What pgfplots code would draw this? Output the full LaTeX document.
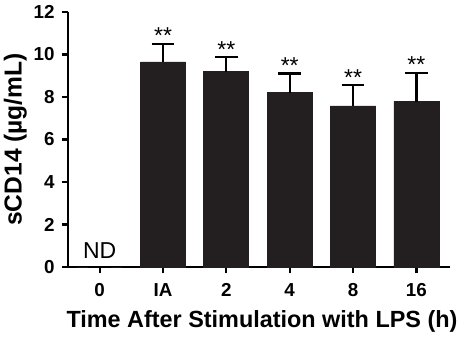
\documentclass[border=0pt]{standalone}
\usepackage{pgfplots}
\pgfplotsset{compat=1.18}
\usepackage{fontspec}
\setmainfont{Liberation Sans}
\definecolor{barc}{HTML}{231F20}
\begin{document}
\begin{tikzpicture}
\useasboundingbox (-34pt,-35pt) rectangle (196.5pt,133.5pt);
\begin{axis}[
  scale only axis,
  width=191pt, height=127.5pt,
  at={(0,0)}, anchor=south west,
  xmin=-0.5, xmax=5.53,
  ymin=0, ymax=12,
  axis x line*=bottom, axis y line*=left,
  axis line style={line width=1.1pt, -},
  every tick/.style={line width=1.1pt, black},
  tick align=outside,
  major tick length=3.2pt,
  xtick={0,1,2,3,4,5},
  xticklabels={0,IA,2,4,8,16},
  ytick={0,2,4,6,8,10,12},
  tick label style={font=\bfseries\fontsize{9.4}{10}\selectfont},
  xticklabel style={yshift=-1.5pt},
  /pgf/number format/assume math mode=true,
  xlabel={\bfseries Time After Stimulation with LPS (h)},
  ylabel={\bfseries sCD14 (\textmu g/mL)},
  xlabel style={font=\bfseries\fontsize{11.7}{13}\selectfont, xshift=1.5pt, yshift=0pt},
  ylabel style={font=\bfseries\fontsize{12.3}{14}\selectfont, yshift=-3.5pt},
  clip=false,
]
\addplot[ybar, bar width=22.5pt, fill=barc, draw=barc,
  error bars/.cd, y dir=plus, y explicit,
  error bar style={line width=1.1pt, black},
  error mark options={rotate=90, mark size=5.7pt, line width=1.1pt, black}]
  table[x=x, y=y, y error=e] {
x y e
0 0 0
1 9.65 0.85
2 9.19 0.68
3 8.20 0.91
4 7.58 0.97
5 7.78 1.36
};
\addplot[only marks, mark=none, nodes near coords={**},
  every node near coord/.style={font=\fontsize{11.5}{12}\selectfont, anchor=south, yshift=-3.5pt}]
  coordinates {(1,10.5) (2,9.87) (3,9.11) (4,8.55) (5,9.14)};
\node[font=\fontsize{11.5}{13}\selectfont, anchor=south] at (axis cs:0,0.05) {ND};
\end{axis}
\end{tikzpicture}
\end{document}
